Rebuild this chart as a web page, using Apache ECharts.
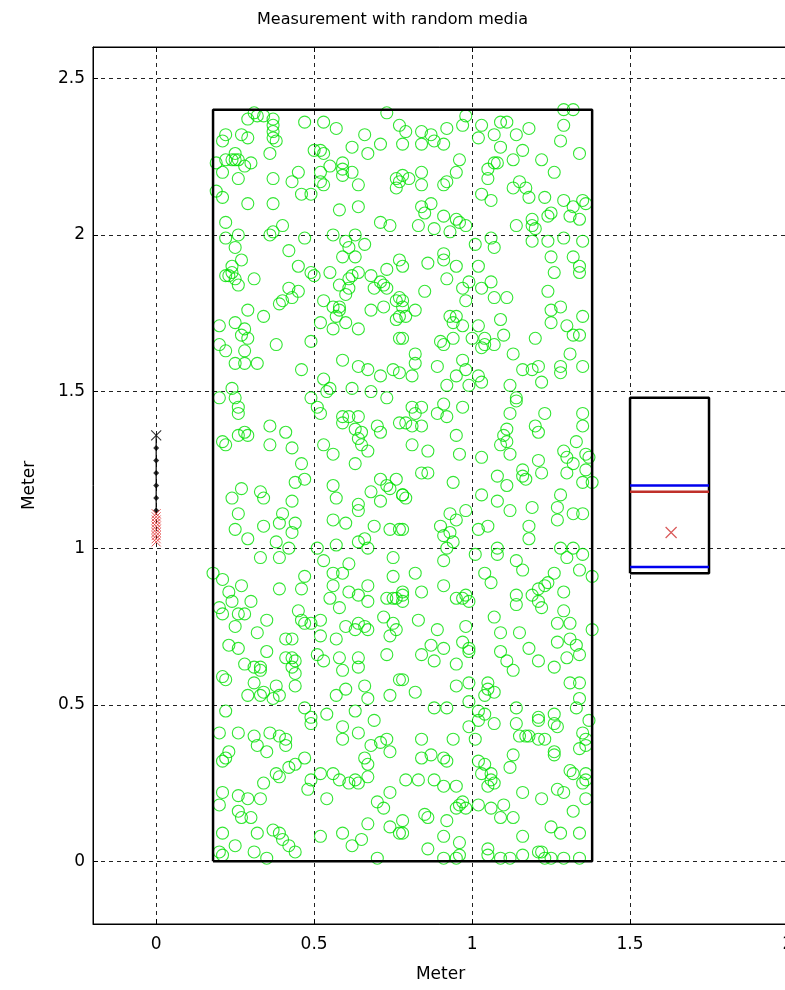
<!DOCTYPE html>
<html>
<head>
<meta charset="utf-8">
<script src="https://cdn.jsdelivr.net/npm/echarts@6/dist/echarts.min.js"></script>
<style>
html, body { margin: 0; padding: 0; background: #fff; }
#chart { width: 785px; height: 990px; }
</style>
</head>
<body>
<div id="chart"></div>
<script>
// Scatterers inside the medium (x, y in meters)
const mediaCircles = [
  // upper band
  [0.31,2.39],[0.29,2.37],[0.34,2.38],[0.32,2.38],[0.37,2.37],[0.37,2.35],[0.37,2.33],[0.37,2.31],[0.38,2.30],[0.36,2.26],[0.47,2.36],[0.53,2.36],[0.57,2.34],[0.73,2.39],[0.77,2.35],[0.22,2.32],[0.21,2.30],[0.27,2.32],[0.29,2.31],[0.25,2.26],[0.25,2.24],[0.26,2.24],[0.24,2.24],[0.19,2.23],[0.22,2.24],[0.28,2.22],[0.30,2.23],[0.21,2.20],[0.26,2.18],[0.37,2.18],[0.43,2.17],[0.45,2.20],[0.19,2.14],[0.21,2.12],[0.29,2.10],[0.37,2.10],[0.46,2.13],[0.49,2.13],[0.50,2.27],[0.52,2.27],[0.53,2.26],[0.52,2.20],[0.52,2.17],[0.53,2.16],[0.55,2.22],[0.59,2.23],[0.59,2.21],[0.59,2.19],[0.62,2.20],[0.64,2.16],[0.62,2.28],[0.66,2.32],[0.67,2.26],[0.71,2.29],[0.58,2.08],[0.64,2.09],[0.76,2.18],[0.77,2.17],[0.76,2.15],[0.22,2.04],[0.26,2.00],[0.22,1.99],[0.25,1.96],[0.36,2.00],[0.37,2.01],[0.40,2.03],[0.42,1.95],[0.47,1.99],[0.56,2.00],[0.60,1.98],[0.61,1.96],[0.63,2.00],[0.66,1.97],[0.71,2.04],[0.74,2.03],
  [0.98,2.38],[1.29,2.40],[1.32,2.40],[1.29,2.35],[0.79,2.33],[0.84,2.33],[0.87,2.32],[0.92,2.34],[0.97,2.35],[1.03,2.35],[1.09,2.36],[1.11,2.36],[1.18,2.34],[0.78,2.29],[0.84,2.29],[0.88,2.30],[0.91,2.29],[1.02,2.31],[1.07,2.32],[1.14,2.32],[1.28,2.30],[1.09,2.28],[0.96,2.24],[1.13,2.24],[1.16,2.27],[1.22,2.24],[1.34,2.26],[1.07,2.23],[1.05,2.21],[1.08,2.23],[0.95,2.20],[1.05,2.18],[1.26,2.20],[0.84,2.20],[0.78,2.19],[0.80,2.18],[0.84,2.16],[0.91,2.16],[0.92,2.17],[1.03,2.13],[1.06,2.11],[1.13,2.15],[1.15,2.17],[1.17,2.15],[1.18,2.12],[1.23,2.12],[1.29,2.11],[1.35,2.11],[1.36,2.10],[0.84,2.09],[0.87,2.10],[0.85,2.07],[0.91,2.06],[0.95,2.05],[0.96,2.04],[0.98,2.03],[0.83,2.03],[0.88,2.02],[0.93,2.01],[1.14,2.03],[1.19,2.05],[1.19,2.03],[1.20,2.02],[1.25,2.07],[1.24,2.06],[1.32,2.09],[1.31,2.06],[1.34,2.05],[1.01,1.97],[1.06,1.99],[1.07,1.96],[1.19,1.98],[1.24,1.98],[1.29,1.99],[1.35,1.98],[0.91,1.94],
  // second band
  [0.27,1.92],[0.24,1.90],[0.22,1.87],[0.23,1.87],[0.24,1.88],[0.25,1.86],[0.26,1.84],[0.31,1.86],[0.45,1.90],[0.49,1.88],[0.50,1.87],[0.55,1.88],[0.59,1.93],[0.63,1.93],[0.62,1.87],[0.64,1.88],[0.61,1.86],[0.68,1.87],[0.73,1.89],[0.71,1.85],[0.72,1.84],[0.69,1.83],[0.73,1.83],[0.77,1.92],[0.42,1.83],[0.40,1.79],[0.39,1.78],[0.43,1.80],[0.45,1.82],[0.53,1.79],[0.56,1.77],[0.58,1.77],[0.58,1.76],[0.60,1.81],[0.61,1.83],[0.58,1.84],[0.57,1.74],[0.60,1.72],[0.64,1.70],[0.56,1.70],[0.52,1.72],[0.68,1.76],[0.72,1.77],[0.77,1.80],[0.76,1.79],[0.77,1.74],[0.76,1.73],[0.29,1.76],[0.34,1.74],[0.20,1.71],[0.25,1.72],[0.28,1.70],[0.27,1.68],[0.29,1.67],[0.20,1.65],[0.22,1.63],[0.38,1.65],[0.49,1.66],[0.77,1.67],[0.28,1.63],[0.25,1.59],[0.28,1.59],[0.32,1.59],[0.46,1.57],[0.59,1.60],[0.64,1.58],[0.67,1.57],[0.71,1.55],[0.75,1.57],[0.77,1.56],[0.53,1.54],[0.24,1.51],[0.20,1.48],[0.25,1.48],[0.26,1.45],[0.55,1.51],[0.54,1.50],[0.49,1.48],[0.51,1.45],[0.62,1.51],[0.68,1.50],[0.73,1.48],
  [0.78,1.90],[0.86,1.91],[0.91,1.92],[0.95,1.90],[1.02,1.90],[1.25,1.93],[1.26,1.88],[1.32,1.93],[1.34,1.90],[1.34,1.88],[0.92,1.86],[0.99,1.85],[1.06,1.85],[0.97,1.83],[1.03,1.83],[0.98,1.79],[1.07,1.80],[1.11,1.80],[0.85,1.82],[0.78,1.79],[0.78,1.77],[0.79,1.74],[0.82,1.76],[1.24,1.82],[1.25,1.76],[1.28,1.77],[1.25,1.72],[1.30,1.71],[1.35,1.74],[1.32,1.68],[1.34,1.68],[0.93,1.74],[0.95,1.74],[0.94,1.72],[0.97,1.71],[1.02,1.71],[1.09,1.73],[1.10,1.68],[1.04,1.67],[1.04,1.65],[1.03,1.64],[1.07,1.65],[1.00,1.67],[0.90,1.66],[0.91,1.65],[0.94,1.67],[1.20,1.67],[0.78,1.67],[1.13,1.62],[1.31,1.62],[0.82,1.62],[0.82,1.59],[0.89,1.58],[0.97,1.60],[0.98,1.57],[1.16,1.57],[1.19,1.57],[1.21,1.58],[1.22,1.53],[1.28,1.58],[1.28,1.56],[1.35,1.58],[0.81,1.55],[0.95,1.55],[0.92,1.52],[0.99,1.52],[1.02,1.55],[1.03,1.53],[1.12,1.52],[1.14,1.48],[1.14,1.47],[0.81,1.45],[0.84,1.45],[0.91,1.46],[0.97,1.45],
  // middle band
  [0.26,1.43],[0.52,1.43],[0.59,1.42],[0.61,1.42],[0.64,1.42],[0.59,1.40],[0.63,1.38],[0.65,1.37],[0.64,1.35],[0.65,1.33],[0.67,1.31],[0.70,1.39],[0.71,1.37],[0.77,1.40],[0.21,1.34],[0.22,1.33],[0.26,1.36],[0.28,1.37],[0.29,1.36],[0.36,1.39],[0.41,1.37],[0.36,1.33],[0.43,1.32],[0.53,1.33],[0.56,1.30],[0.63,1.27],[0.46,1.27],[0.44,1.21],[0.47,1.22],[0.56,1.20],[0.57,1.16],[0.71,1.22],[0.73,1.20],[0.76,1.22],[0.74,1.19],[0.78,1.17],[0.68,1.18],[0.71,1.15],[0.24,1.16],[0.27,1.19],[0.33,1.18],[0.34,1.16],[0.43,1.15],[0.26,1.11],[0.40,1.11],[0.39,1.08],[0.44,1.08],[0.43,1.05],[0.34,1.07],[0.25,1.06],[0.29,1.03],[0.64,1.14],[0.64,1.12],[0.56,1.09],[0.60,1.08],[0.69,1.07],[0.74,1.06],[0.77,1.06],[0.38,1.02],[0.42,1.00],[0.51,1.00],[0.57,1.01],[0.64,1.02],[0.66,1.03],[0.67,1.00],[0.33,0.97],[0.39,0.97],[0.53,0.96],[0.61,0.95],[0.75,0.97],
  [0.82,1.43],[0.79,1.40],[0.81,1.39],[0.84,1.39],[0.89,1.43],[0.92,1.42],[1.12,1.43],[1.23,1.43],[1.35,1.43],[0.95,1.36],[0.81,1.33],[0.86,1.31],[0.96,1.30],[1.03,1.29],[1.11,1.38],[1.10,1.36],[1.11,1.34],[1.09,1.33],[1.12,1.30],[1.20,1.39],[1.21,1.37],[1.33,1.34],[1.35,1.39],[1.29,1.31],[1.30,1.29],[1.32,1.27],[1.36,1.30],[1.37,1.29],[1.36,1.25],[1.38,1.21],[0.84,1.24],[0.86,1.24],[0.94,1.21],[1.08,1.23],[1.11,1.20],[1.16,1.25],[1.16,1.23],[1.17,1.22],[1.21,1.28],[1.22,1.24],[1.30,1.24],[1.35,1.21],[0.78,1.17],[0.79,1.16],[1.03,1.17],[1.08,1.15],[1.12,1.12],[1.19,1.13],[1.28,1.17],[1.27,1.13],[1.27,1.09],[1.32,1.11],[1.35,1.11],[0.93,1.11],[0.95,1.09],[0.98,1.12],[0.90,1.07],[0.91,1.04],[0.93,1.05],[0.94,1.02],[0.92,1.00],[1.02,1.06],[1.05,1.07],[1.18,1.07],[1.18,1.03],[0.78,1.06],[1.01,0.98],[1.08,1.00],[1.08,0.98],[1.14,0.96],[1.28,1.00],[1.32,1.00],[1.35,0.98],[1.30,0.97],[0.91,0.96],
  // fourth band
  [0.18,0.92],[0.21,0.90],[0.27,0.88],[0.23,0.86],[0.30,0.83],[0.24,0.83],[0.20,0.81],[0.21,0.79],[0.26,0.79],[0.28,0.79],[0.25,0.75],[0.39,0.87],[0.46,0.87],[0.47,0.91],[0.35,0.77],[0.32,0.73],[0.45,0.80],[0.46,0.77],[0.47,0.76],[0.49,0.76],[0.52,0.77],[0.41,0.71],[0.43,0.71],[0.52,0.72],[0.23,0.69],[0.26,0.68],[0.35,0.67],[0.41,0.65],[0.43,0.65],[0.44,0.64],[0.43,0.62],[0.44,0.60],[0.51,0.66],[0.53,0.64],[0.28,0.63],[0.31,0.62],[0.33,0.62],[0.33,0.61],[0.21,0.59],[0.22,0.58],[0.31,0.57],[0.34,0.54],[0.29,0.53],[0.33,0.53],[0.37,0.52],[0.38,0.56],[0.39,0.53],[0.44,0.56],[0.56,0.92],[0.59,0.92],[0.56,0.88],[0.61,0.86],[0.64,0.85],[0.67,0.88],[0.67,0.83],[0.55,0.84],[0.58,0.81],[0.75,0.91],[0.73,0.84],[0.75,0.84],[0.76,0.84],[0.78,0.85],[0.72,0.78],[0.75,0.76],[0.76,0.74],[0.74,0.72],[0.60,0.75],[0.63,0.74],[0.64,0.76],[0.66,0.75],[0.67,0.74],[0.57,0.71],[0.58,0.65],[0.59,0.61],[0.64,0.65],[0.64,0.62],[0.73,0.66],[0.66,0.56],[0.60,0.55],[0.57,0.53],[0.67,0.52],[0.77,0.58],[0.74,0.53],[0.22,0.48],[0.47,0.49],[0.49,0.46],[0.54,0.47],[0.63,0.48],
  [0.82,0.92],[0.78,0.86],[0.78,0.83],[0.84,0.86],[0.91,0.88],[0.95,0.84],[0.97,0.84],[0.98,0.85],[0.99,0.83],[1.04,0.92],[1.06,0.89],[1.16,0.93],[1.14,0.85],[1.14,0.82],[1.19,0.85],[1.21,0.83],[1.22,0.81],[1.21,0.87],[1.23,0.88],[1.24,0.89],[1.26,0.92],[1.29,0.86],[1.34,0.93],[1.38,0.91],[0.83,0.77],[0.89,0.74],[0.98,0.75],[1.07,0.78],[1.09,0.73],[1.15,0.73],[1.29,0.80],[1.27,0.76],[1.31,0.76],[1.38,0.74],[0.87,0.69],[0.91,0.68],[0.84,0.66],[0.88,0.64],[0.95,0.63],[0.97,0.70],[0.99,0.68],[0.99,0.67],[1.09,0.67],[1.11,0.64],[1.13,0.61],[1.18,0.68],[1.21,0.64],[1.26,0.62],[1.27,0.70],[1.31,0.71],[1.33,0.69],[1.34,0.66],[1.30,0.65],[0.78,0.58],[0.82,0.54],[0.95,0.56],[0.99,0.57],[1.05,0.57],[1.05,0.55],[1.07,0.54],[1.04,0.53],[1.31,0.57],[1.34,0.57],[1.34,0.52],[0.88,0.49],[0.92,0.49],[0.99,0.51],[1.02,0.48],[1.04,0.47],[1.14,0.49],[1.21,0.46],[1.26,0.47],[1.33,0.49],[1.37,0.45],
  // bottom band
  [0.49,0.44],[0.69,0.45],[0.20,0.41],[0.26,0.41],[0.31,0.40],[0.36,0.41],[0.39,0.40],[0.41,0.39],[0.41,0.37],[0.32,0.37],[0.35,0.35],[0.59,0.43],[0.59,0.39],[0.64,0.41],[0.68,0.37],[0.71,0.38],[0.73,0.39],[0.74,0.35],[0.66,0.33],[0.67,0.31],[0.21,0.32],[0.23,0.35],[0.22,0.33],[0.47,0.33],[0.44,0.31],[0.42,0.30],[0.38,0.28],[0.39,0.27],[0.34,0.25],[0.33,0.20],[0.29,0.20],[0.26,0.21],[0.21,0.22],[0.20,0.18],[0.48,0.23],[0.49,0.26],[0.52,0.28],[0.56,0.28],[0.58,0.26],[0.61,0.25],[0.63,0.26],[0.64,0.25],[0.67,0.27],[0.54,0.20],[0.26,0.16],[0.27,0.14],[0.30,0.14],[0.21,0.09],[0.32,0.09],[0.25,0.05],[0.37,0.10],[0.39,0.09],[0.40,0.07],[0.42,0.05],[0.44,0.03],[0.31,0.03],[0.35,0.01],[0.20,0.03],[0.21,0.02],[0.70,0.19],[0.72,0.17],[0.74,0.22],[0.67,0.12],[0.74,0.11],[0.77,0.09],[0.52,0.08],[0.59,0.09],[0.62,0.05],[0.65,0.07],[0.70,0.01],
  [0.99,0.43],[1.02,0.45],[1.07,0.44],[1.14,0.44],[1.21,0.45],[1.26,0.44],[1.27,0.43],[0.84,0.39],[0.94,0.39],[1.01,0.39],[1.15,0.40],[1.17,0.40],[1.18,0.40],[1.21,0.39],[1.23,0.39],[1.35,0.41],[1.36,0.39],[1.34,0.36],[1.36,0.37],[0.84,0.33],[0.87,0.34],[0.91,0.33],[0.92,0.32],[1.02,0.32],[1.04,0.31],[1.13,0.34],[1.12,0.30],[1.26,0.35],[1.26,0.34],[0.79,0.26],[0.83,0.26],[0.88,0.26],[0.91,0.24],[0.95,0.24],[1.03,0.28],[1.06,0.28],[1.06,0.26],[1.07,0.25],[1.05,0.24],[1.31,0.29],[1.32,0.28],[1.36,0.28],[1.36,0.26],[1.35,0.25],[1.27,0.23],[1.29,0.22],[1.16,0.22],[1.22,0.20],[1.36,0.20],[0.78,0.13],[0.78,0.09],[0.85,0.15],[0.86,0.14],[0.92,0.13],[0.95,0.17],[0.96,0.18],[0.97,0.19],[0.98,0.17],[1.02,0.18],[1.06,0.17],[1.09,0.14],[1.10,0.18],[1.13,0.14],[1.32,0.16],[1.25,0.11],[1.28,0.09],[1.34,0.09],[1.16,0.08],[0.86,0.04],[0.91,0.08],[0.96,0.06],[0.96,0.02],[0.95,0.01],[0.91,0.01],[1.05,0.04],[1.05,0.02],[1.09,0.01],[1.12,0.01],[1.16,0.02],[1.21,0.03],[1.22,0.03],[1.23,0.01],[1.25,0.01],[1.29,0.01],[1.34,0.01]
];

// Medium boundary and receiver box (meters)
const mediumX = [0.18, 1.38];
const mediumY = [0, 2.4];
const receiverX = [1.5, 1.75];
const receiverY = [0.92, 1.48];

// Levels inside the receiver box
const blueLevels = [1.2, 0.94];
const redLevel = 1.18;
const estimatePoint = [1.63, 1.05];

// Source path along x = 0
const sourceStart = 1.36;
const sourceEnd = 1.11;
const sourceSteps = [1.32, 1.28, 1.24, 1.20, 1.16, 1.12];
const hitLevels = [1.11, 1.10, 1.09, 1.08, 1.07, 1.06, 1.05, 1.04, 1.03, 1.02];

const xRange = [-0.2, 2];
const yRange = [-0.2, 2.6];

const FONT = 'DejaVu Sans';
const crossSymbol = 'path://M0,0L10,10M10,0L0,10';

function box(xs, ys) {
  return [[xs[0], ys[0]], [xs[1], ys[0]], [xs[1], ys[1]], [xs[0], ys[1]], [xs[0], ys[0]]];
}
function hline(xs, y) { return [[xs[0], y], [xs[1], y]]; }
function halfStep(v) {
  return Math.abs(v * 2 - Math.round(v * 2)) < 1e-9 ? String(+v.toFixed(2)) : '';
}

const chart = echarts.init(document.getElementById('chart'), null, { renderer: 'canvas' });

const gridDash = { type: [4, 4], color: '#222', width: 1 };
const frameLine = { show: true, onZero: false, lineStyle: { color: '#000' } };
const innerTick = { show: true, inside: true, length: 5, lineStyle: { color: '#000' } };

chart.setOption({
  animation: false,
  backgroundColor: '#fff',
  title: {
    text: 'Measurement with random media',
    left: 'center',
    top: 7,
    textStyle: { fontFamily: FONT, fontSize: 16, fontWeight: 'normal', color: '#000' }
  },
  grid: {
    left: 93, right: -3, top: 47, bottom: 66,
    outerBoundsMode: 'none', containLabel: false,
    show: true, borderColor: '#000', borderWidth: 1, backgroundColor: '#fff'
  },
  xAxis: [{
    type: 'value', min: xRange[0], max: xRange[1], splitNumber: 5,
    name: 'Meter', nameLocation: 'middle', nameGap: 42,
    nameTextStyle: { fontFamily: FONT, fontSize: 17, color: '#000' },
    axisLine: frameLine,
    axisTick: innerTick,
    axisLabel: { formatter: halfStep, fontFamily: FONT, fontSize: 17, color: '#000', margin: 12 },
    splitLine: { show: true, lineStyle: gridDash }
  }, {
    type: 'value', min: xRange[0], max: xRange[1], splitNumber: 5, position: 'top',
    axisLine: frameLine,
    axisTick: innerTick,
    axisLabel: { show: false }, splitLine: { show: false }
  }],
  yAxis: {
    type: 'value', min: yRange[0], max: yRange[1], splitNumber: 5,
    name: 'Meter', nameLocation: 'middle', nameGap: 55,
    nameTextStyle: { fontFamily: FONT, fontSize: 17, color: '#000' },
    axisLine: frameLine,
    axisTick: innerTick,
    axisLabel: { formatter: halfStep, fontFamily: FONT, fontSize: 17, color: '#000', margin: 8 },
    splitLine: { show: true, lineStyle: gridDash }
  },
  series: [
    {
      name: 'media', type: 'scatter', data: mediaCircles,
      symbol: 'circle', symbolSize: 12,
      itemStyle: { color: 'rgba(0,0,0,0)', borderColor: '#00e000', borderWidth: 1.1 },
      z: 3
    },
    {
      name: 'medium', type: 'line', data: box(mediumX, mediumY),
      symbol: 'none', lineStyle: { color: '#000', width: 2.5 }, z: 4
    },
    {
      name: 'receiver', type: 'line', data: box(receiverX, receiverY),
      symbol: 'none', lineStyle: { color: '#000', width: 2.5 }, z: 4
    },
    {
      name: 'upper level', type: 'line', data: hline(receiverX, blueLevels[0]),
      symbol: 'none', lineStyle: { color: '#0000ee', width: 2.5 }, z: 5
    },
    {
      name: 'lower level', type: 'line', data: hline(receiverX, blueLevels[1]),
      symbol: 'none', lineStyle: { color: '#0000ee', width: 2.5 }, z: 5
    },
    {
      name: 'red level', type: 'line', data: hline(receiverX, redLevel),
      symbol: 'none', lineStyle: { color: '#c0302a', width: 2.5 }, z: 5
    },
    {
      name: 'estimate', type: 'scatter', data: [estimatePoint],
      symbol: crossSymbol, symbolSize: 11,
      itemStyle: { color: 'rgba(0,0,0,0)', borderColor: '#d03030', borderWidth: 1.2 }, z: 6
    },
    {
      name: 'path', type: 'line', data: [[0, sourceStart], [0, sourceEnd]],
      symbol: 'none', lineStyle: { color: '#000', width: 1.2 }, z: 5
    },
    {
      name: 'steps', type: 'scatter', data: sourceSteps.map(y => [0, y]),
      symbol: 'diamond', symbolSize: 6, itemStyle: { color: '#000' }, z: 6
    },
    {
      name: 'hits', type: 'scatter', data: hitLevels.map(y => [0, y]),
      symbol: crossSymbol, symbolSize: 9,
      itemStyle: { color: 'rgba(0,0,0,0)', borderColor: '#e03030', borderWidth: 1 }, z: 6
    },
    {
      name: 'start', type: 'scatter', data: [[0, sourceStart]],
      symbol: crossSymbol, symbolSize: 10,
      itemStyle: { color: 'rgba(0,0,0,0)', borderColor: '#000', borderWidth: 1.1 }, z: 6
    }
  ]
});
</script>
</body>
</html>
